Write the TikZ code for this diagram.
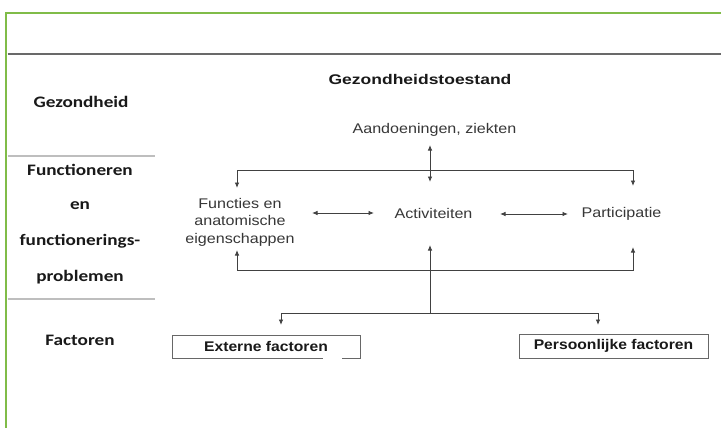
\documentclass[tikz,border=0pt]{standalone}
\usepackage{fontspec}
\usetikzlibrary{arrows.meta}
\newfontfamily\dfont[FakeStretch=1.15]{Liberation Sans}
\newfontfamily\tfont[FakeStretch=1.25]{Liberation Sans}
\newfontfamily\bxfont[FakeStretch=1.12]{Liberation Sans}
\newfontfamily\lfont[FakeStretch=1.2]{Carlito}
\definecolor{framegreen}{RGB}{128,188,72}
\definecolor{headline}{RGB}{105,105,105}
\definecolor{sepgray}{RGB}{190,190,190}
\definecolor{linegray}{RGB}{65,65,65}
\definecolor{txtgray}{RGB}{55,55,55}
\definecolor{labtxt}{RGB}{25,25,25}
\begin{document}
\begin{tikzpicture}[x=1pt,y=-1pt,
  lab/.style={font=\lfont\bfseries\fontsize{16}{18}\selectfont, text=labtxt, inner sep=0pt},
  dtxt/.style={font=\dfont\fontsize{14}{17.5}\selectfont, text=txtgray, inner sep=0pt},
  ttl/.style={font=\tfont\bfseries\fontsize{14}{17}\selectfont, text=labtxt, inner sep=0pt},
  boxst/.style={draw=linegray!80, line width=1pt, font=\bxfont\bfseries\fontsize{14}{17}\selectfont, text=labtxt, inner sep=0pt},
  conn/.style={draw=linegray, line width=0.9pt},
  tip/.style={-{Latex[length=5.5pt,width=4.5pt]}},
  dtip/.style={{Latex[length=5.5pt,width=4.5pt]}-{Latex[length=5.5pt,width=4.5pt]}}
]
\useasboundingbox[fill=white] (0,0) rectangle (721,428);

% frame
\draw[framegreen, line width=2.4pt] (6,428) -- (6,13) -- (721,13);
\draw[headline, line width=1.3pt] (7.5,54) -- (721,54);
\draw[sepgray, line width=1.3pt] (7.5,156) -- (155,156);
\draw[sepgray, line width=1.3pt] (7.5,299) -- (155,299);

% left labels
\node[lab] (gz) at (81,102) {Gezondheid};
\node[lab] (fn1) at (80,170) {Functioneren};
\node[lab] (fn2) at (80,206) {en};
\node[lab] (fn3) at (80,241) {functionerings-};
\node[lab] (fn4) at (80,277) {problemen};
\node[lab] (fc) at (80,340) {Factoren};

% diagram texts
\node[ttl] (gt) at (420,79) {Gezondheidstoestand};
\node[dtxt] (aa) at (434.5,130) {Aandoeningen, ziekten};
\node[dtxt, align=center] (fu) at (240,222) {Functies en\\anatomische\\eigenschappen};
\node[dtxt] (ac) at (433.5,213) {Activiteiten};
\node[dtxt] (pa) at (621.5,214) {Participatie};
\node[boxst, minimum width=188pt, minimum height=23pt] (ex) at (266,346.5) {Externe factoren};
\node[boxst, minimum width=189pt, minimum height=24pt] (pe) at (613.5,346) {Persoonlijke factoren};
\draw[white, line width=2pt] (323,358) -- (342,358);

% coordinates
\coordinate (aaT) at (430,145);
\coordinate (aaB) at (430,182);
\coordinate (tl) at (237,170);
\coordinate (tr) at (633,170);
\coordinate (fuT) at (237,188);
\coordinate (paT) at (633,186);
\coordinate (fuB) at (237,250);
\coordinate (paB) at (633,247);
\coordinate (bl) at (237,270);
\coordinate (br) at (633,270);
\coordinate (acB) at (430,245);
\coordinate (mb) at (430,313);
\coordinate (el) at (281,313);
\coordinate (er) at (598,313);
\coordinate (exT) at (281,325);
\coordinate (peT) at (598,325);
\coordinate (fuR) at (312,213);
\coordinate (acL) at (374,213);
\coordinate (acR) at (500,214);
\coordinate (paL) at (568,214);

% connectors
\draw[conn, dtip] (aaT) -- (aaB);
\draw[conn, tip] (tr) -- (tl) -- (fuT);
\draw[conn, tip] (tl) -- (tr) -- (paT);
\draw[conn, dtip] (fuR) -- (acL);
\draw[conn, dtip] (acR) -- (paL);
\draw[conn, tip] (br) -- (bl) -- (fuB);
\draw[conn, tip] (bl) -- (br) -- (paB);
\draw[conn, tip] (mb) -- (acB);
\draw[conn, tip] (er) -- (el) -- (exT);
\draw[conn, tip] (el) -- (er) -- (peT);
\end{tikzpicture}
\end{document}
